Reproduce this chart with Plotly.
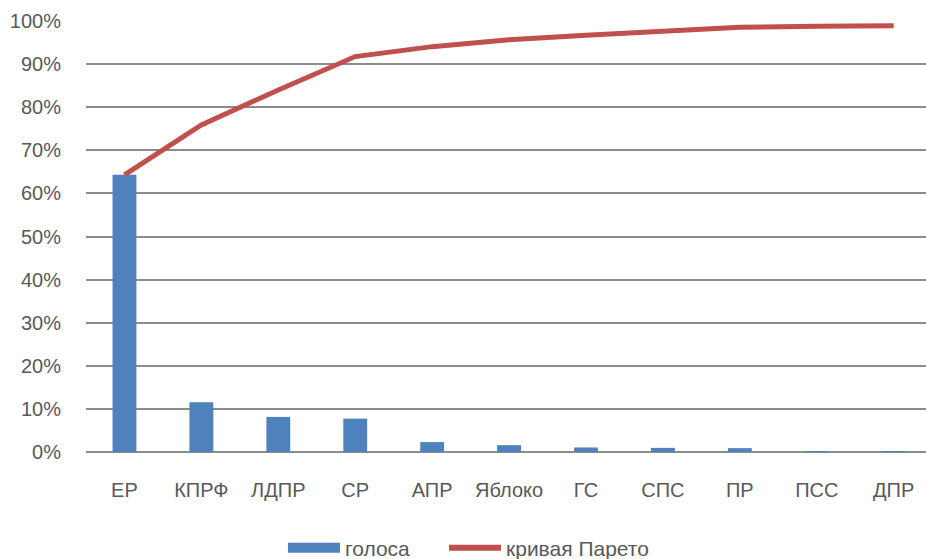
import plotly.graph_objects as go

categories = ["ЕР", "КПРФ", "ЛДПР", "СР", "АПР", "Яблоко", "ГС", "СПС", "ПР", "ПСС", "ДПР"]
votes = [0.6430, 0.1157, 0.0814, 0.0774, 0.0230, 0.0159, 0.0105, 0.0096, 0.0089, 0.0022, 0.0013]
pareto = [0.6430, 0.7587, 0.8401, 0.9175, 0.9405, 0.9564, 0.9669, 0.9765, 0.9854, 0.9876, 0.9889]

BLUE = "#4F81BD"
RED = "#C0504D"

fig = go.Figure()
fig.add_trace(go.Bar(x=categories, y=votes, name="голоса", showlegend=False,
                     marker=dict(color=BLUE, line=dict(width=0))))
fig.add_trace(go.Scatter(x=categories, y=pareto, name="кривая Парето", mode="lines",
                         showlegend=False, line=dict(color=RED, width=5)))
# legend proxies giving swatches like the original
fig.add_trace(go.Scatter(x=[None], y=[None], name="голоса", mode="lines", legend="legend",
                         line=dict(color=BLUE, width=12), hoverinfo="skip"))
fig.add_trace(go.Scatter(x=[None], y=[None], name="кривая Парето", mode="lines", legend="legend2",
                         line=dict(color=RED, width=6), hoverinfo="skip"))

font_family = "Liberation Sans, Arial, sans-serif"
legend_common = dict(orientation="h", xref="container", xanchor="left",
                     y=-0.223, yanchor="middle",
                     font=dict(size=21, color="#595959"), itemwidth=52)
fig.update_layout(
    width=926, height=559,
    margin=dict(l=86, r=0, t=21, b=107, autoexpand=False),
    plot_bgcolor="white", paper_bgcolor="white",
    bargap=0.69,
    font=dict(family=font_family, size=20, color="#595959"),
    showlegend=True,
    legend=dict(x=0.3056, **legend_common),
    legend2=dict(x=0.4795, **legend_common),
    xaxis=dict(showgrid=False, showline=False, ticks="", ticklabelstandoff=24,
               range=[-0.5, 10.42], tickfont=dict(size=20), automargin=False),
    yaxis=dict(range=[0, 1.0], dtick=0.1, tickformat=".0%", showgrid=True, gridcolor="#8C8C8C",
               gridwidth=1.5, zeroline=True, zerolinecolor="#8C8C8C", zerolinewidth=1.5,
               showline=False, ticks="", ticklabelstandoff=24, tickfont=dict(size=20),
               automargin=False),
)

fig.write_html("out.html", config={"displayModeBar": False},
               post_script="document.body.style.margin='0';document.body.style.overflow='hidden';")
